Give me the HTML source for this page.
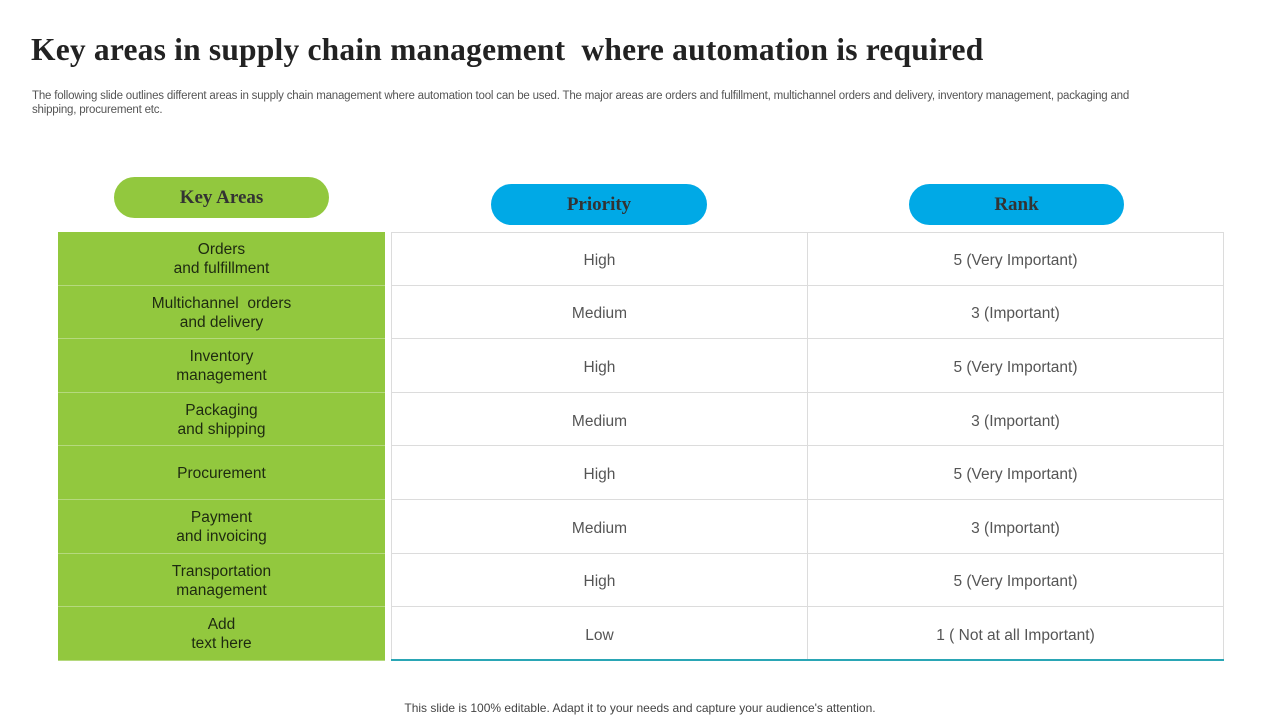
<!DOCTYPE html>
<html><head><meta charset="utf-8"><style>
body{margin:0;width:1280px;height:720px;background:#fff;position:relative;overflow:hidden;font-family:"Liberation Sans",sans-serif}
.abs{position:absolute}
h1{position:absolute;left:31px;top:32px;margin:0;font-family:"Liberation Serif",serif;font-weight:bold;font-size:31.5px;color:#222;letter-spacing:0.2px;white-space:nowrap}
.sub{left:32px;top:89px;width:1125px;font-size:11.5px;line-height:14px;color:#555;letter-spacing:-0.2px}
.pill{position:absolute;height:41px;border-radius:21px;font-family:"Liberation Serif",serif;font-weight:bold;font-size:19px;color:#333;display:flex;align-items:center;justify-content:center}
.cell{position:absolute;display:flex;align-items:center;justify-content:center;text-align:center;font-size:15.5px;line-height:19px;box-sizing:border-box;padding-top:4px}
.g{background:#92c83e;color:#1e2a10;border-bottom:1px solid #b5d97e}
.w{color:#555;border-bottom:1px solid #dcdcdc;border-right:1px solid #dcdcdc}
.foot{left:0;width:1280px;top:701px;text-align:center;font-size:12px;color:#444;padding-left:-1px}
</style></head><body>
<h1>Key areas in supply chain management &nbsp;where automation is required</h1>
<div class="abs sub">The following slide outlines different areas in supply chain management where automation tool can be used. The major areas are orders and fulfillment, multichannel orders and delivery, inventory management, packaging and shipping, procurement etc.</div>
<div class="pill" style="left:114px;top:177px;width:215px;background:#92c83e">Key Areas</div>
<div class="pill" style="left:491px;top:184px;width:216px;background:#00a9e6">Priority</div>
<div class="pill" style="left:909px;top:184px;width:215px;background:#00a9e6">Rank</div>
<div class="abs" style="left:391px;top:232px;width:832px;height:1px;background:#dcdcdc"></div>
<div class="abs" style="left:391px;top:232px;width:1px;height:429px;background:#dcdcdc"></div>
<div id="rows"></div>
<div class="abs" style="left:391px;top:659px;width:833px;height:2px;background:#2aa6b5"></div>
<div class="abs foot">This slide is 100% editable. Adapt it to your needs and capture your audience's attention.</div>
<script>
const areas=["Orders<br>and fulfillment","Multichannel &nbsp;orders<br>and delivery","Inventory<br>management","Packaging<br>and shipping","Procurement","Payment<br>and invoicing","Transportation<br>management","Add<br>text here"];
const priorities=["High","Medium","High","Medium","High","Medium","High","Low"];
const ranks=["5 (Very Important)","3 (Important)","5 (Very Important)","3 (Important)","5 (Very Important)","3 (Important)","5 (Very Important)","1 ( Not at all Important)"];
const root=document.getElementById('rows');
const top0=232,rh=53.6;
areas.forEach((a,i)=>{
  const y=top0+i*rh;
  const c1=document.createElement('div');c1.className='cell g';
  
  
  c1.style.cssText=`left:58px;top:${y}px;width:327px;height:${rh}px;padding-top:2px`;c1.innerHTML=a;root.appendChild(c1);
  const c2=document.createElement('div');c2.className='cell w';
  
  
  c2.style.cssText=`left:392px;top:${y}px;width:416px;height:${rh}px`;c2.textContent=priorities[i];root.appendChild(c2);
  const c3=document.createElement('div');c3.className='cell w';
  
  
  c3.style.cssText=`left:808px;top:${y}px;width:416px;height:${rh}px`;c3.textContent=ranks[i];root.appendChild(c3);
});
</script>
</body></html>
